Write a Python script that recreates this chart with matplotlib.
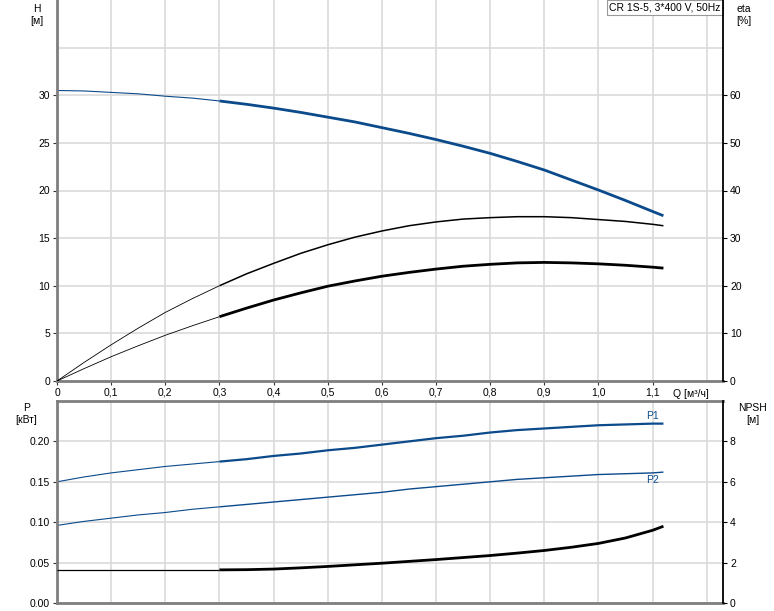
import numpy as np
import matplotlib
matplotlib.use("Agg")
from matplotlib import pyplot as plt

plt.rcParams['font.family'] = ['Liberation Sans', 'DejaVu Sans']
plt.rcParams['font.size'] = 7.5

# flow [m3/h]
q = [0, 0.05, 0.1, 0.15, 0.2, 0.25, 0.3, 0.35, 0.4, 0.45, 0.5, 0.55, 0.6,
     0.65, 0.7, 0.75, 0.8, 0.85, 0.9, 0.95, 1.0, 1.05, 1.1, 1.12]
# head [m]
head = [30.5, 30.45, 30.3, 30.15, 29.9, 29.7, 29.4, 29.05, 28.65, 28.2, 27.7, 27.2, 26.6,
        26.0, 25.35, 24.65, 23.9, 23.05, 22.15, 21.1, 20.05, 18.95, 17.8, 17.35]
# efficiencies [%]
eta_pump = [0, 3.9, 7.6, 11.1, 14.4, 17.3, 20.0, 22.5, 24.7, 26.8, 28.6, 30.2, 31.5,
            32.6, 33.4, 34.0, 34.3, 34.5, 34.5, 34.3, 33.9, 33.5, 32.9, 32.6]
eta_total = [0, 2.6, 5.1, 7.4, 9.6, 11.6, 13.5, 15.3, 17.0, 18.5, 19.9, 21.0, 22.0,
             22.8, 23.5, 24.1, 24.5, 24.8, 24.9, 24.8, 24.6, 24.3, 23.9, 23.7]
# power [kW]
p1 = [0.150, 0.156, 0.161, 0.165, 0.169, 0.172, 0.175, 0.178, 0.182, 0.185, 0.189, 0.192, 0.196,
      0.200, 0.204, 0.207, 0.211, 0.214, 0.216, 0.218, 0.220, 0.221, 0.222, 0.222]
p2 = [0.096, 0.101, 0.105, 0.109, 0.112, 0.116, 0.119, 0.122, 0.125, 0.128, 0.131, 0.134, 0.137,
      0.141, 0.144, 0.147, 0.150, 0.153, 0.155, 0.157, 0.159, 0.160, 0.161, 0.162]
# NPSH [m]
npsh = [1.64, 1.64, 1.64, 1.64, 1.64, 1.64, 1.64, 1.65, 1.68, 1.74, 1.81, 1.89, 1.97,
        2.06, 2.15, 2.25, 2.35, 2.47, 2.60, 2.76, 2.95, 3.22, 3.6, 3.8]

x_ticks = [0, 0.1, 0.2, 0.3, 0.4, 0.5, 0.6, 0.7, 0.8, 0.9, 1.0, 1.1]
x_labels = ['0', '0,1', '0,2', '0,3', '0,4', '0,5', '0,6', '0,7', '0,8', '0,9', '1,0', '1,1']

BLUE = '#0b4a8b'
GRID = '#dadada'
SPINE = '#7f7f7f'
k = 6  # start of duty range (q = 0.3)


def two_part(ax, x, y, color, lw_thin, lw_thick):
	ax.plot(x[:k + 1], y[:k + 1], color=color, lw=lw_thin, solid_capstyle='butt')
	ax.plot(x[k:], y[k:], color=color, lw=lw_thick, solid_capstyle='butt')


def style(ax, ax2):
	ax.set_xlim(0, 1.23)
	ax.set_xticks(x_ticks)
	ax.grid(True, color=GRID, lw=1.2)
	ax.axvline(1.2, color=GRID, lw=1.2, zorder=0)
	ax.set_axisbelow(True)
	for s in ['left', 'bottom', 'top']:
		ax.spines[s].set_color(SPINE)
		ax.spines[s].set_linewidth(2)
	ax.spines['right'].set_visible(False)
	ax2.spines['right'].set_color('black')
	ax2.spines['right'].set_linewidth(1.3)
	for s in ['left', 'bottom', 'top']:
		ax2.spines[s].set_visible(False)
	ax.tick_params(length=3, width=0.8, pad=2, colors='#333333', labelcolor='black')
	ax2.tick_params(length=3, width=0.8, pad=2, colors='black')


fig = plt.figure(figsize=(7.74, 6.11), dpi=100)

# --- head / efficiency
ax = fig.add_axes([57 / 774, 1 - 381 / 611, 666 / 774, 381 / 611])
ax2 = ax.twinx()
ax.set_ylim(0, 40)
ax.set_yticks([0, 5, 10, 15, 20, 25, 30])
ax.axhline(35, color=GRID, lw=1.2, zorder=0)
ax2.set_ylim(0, 80)
ax2.set_yticks([0, 10, 20, 30, 40, 50, 60])
style(ax, ax2)
ax.spines['top'].set_visible(False)
ax.set_xticklabels(x_labels)
two_part(ax, q, head, BLUE, 0.8, 2.0)
two_part(ax2, q, eta_pump, 'black', 0.6, 1.1)
two_part(ax2, q, eta_total, 'black', 0.6, 2.0)
ax.text(1.17, -0.8, 'Q [м³/ч]', ha='center', va='top', fontsize=7.5)
ax.text(-0.037, 39.6, 'H\n[м]', ha='center', va='top', fontsize=7.5, linespacing=1.3)
ax2.text(1.268, 79.2, 'eta\n[%]', ha='center', va='top', fontsize=7.5, linespacing=1.3)
ax.text(1.226, 39.7, 'CR 1S-5, 3*400 V, 50Hz', ha='right', va='top', fontsize=7.5,
        bbox=dict(boxstyle='square,pad=0.25', fc='white', ec='#999999', lw=0.8))

# --- power / NPSH
bx = fig.add_axes([57 / 774, 1 - 603 / 611, 666 / 774, 202 / 611])
bx2 = bx.twinx()
bx.set_ylim(0, 0.25)
bx.set_yticks([0, 0.05, 0.10, 0.15, 0.20])
bx.set_yticklabels(['0.00', '0.05', '0.10', '0.15', '0.20'])
bx2.set_ylim(0, 10)
bx2.set_yticks([0, 2, 4, 6, 8])
style(bx, bx2)
bx.tick_params(axis='x', labelbottom=False, length=0)
two_part(bx, q, p1, BLUE, 0.8, 1.6)
two_part(bx, q, p2, BLUE, 0.8, 1.0)
two_part(bx2, q, npsh, 'black', 0.9, 2.0)
bx.text(1.1, p1[-1] + 0.003, 'P1', ha='center', va='bottom', color=BLUE, fontsize=7.5)
bx.text(1.1, p2[-1] - 0.003, 'P2', ha='center', va='top', color=BLUE, fontsize=7.5)
bx.text(-0.056, 0.248, 'P\n[кВт]', ha='center', va='top', fontsize=7.5, linespacing=1.3)
bx2.text(1.285, 9.9, 'NPSH\n[м]', ha='center', va='top', fontsize=7.5, linespacing=1.3)

fig.savefig('out.png', dpi=100)
